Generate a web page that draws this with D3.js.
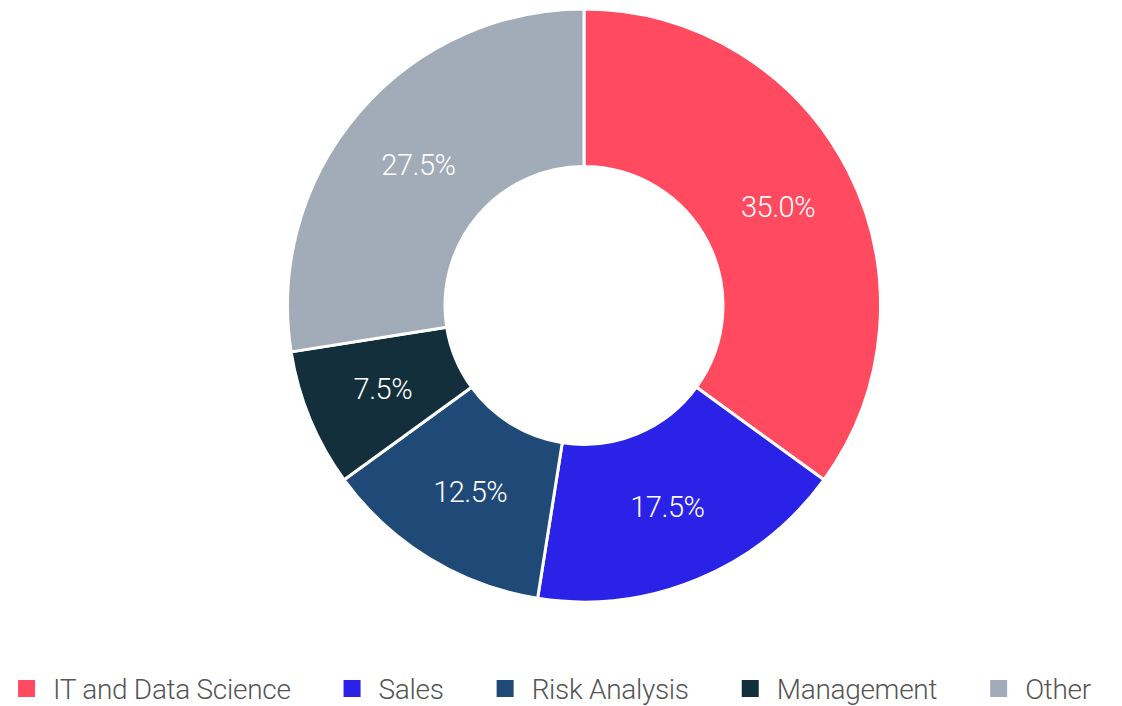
<!DOCTYPE html>
<html><head><meta charset="utf-8">
<script src="https://cdn.jsdelivr.net/npm/d3@7"></script>
<style>
html,body{margin:0;padding:0;background:#fff;}
svg{display:block;}
text{font-family:Roboto,"Noto Sans",sans-serif;font-weight:300;}
</style></head>
<body>
<svg id="chart" width="1122" height="706"></svg>
<script>
const categories = ["IT and Data Science", "Sales", "Risk Analysis", "Management", "Other"];
const values = [35.0, 17.5, 12.5, 7.5, 27.5];
const colors = ["#FF4A5F", "#2B22E8", "#1F4A78", "#132F3C", "#A2ACB8"];

const svg = d3.select("#chart");
const W = 1122, H = 706;
const cx = 584, cy = 305.5, R = 296.5, r = 139;

const data = categories.map((c, i) => ({cat: c, value: values[i], color: colors[i]}));
const pie = d3.pie().value(d => d.value).sort(null);
const arc = d3.arc().innerRadius(r).outerRadius(R);
const labelArc = d3.arc().innerRadius((r + R) / 2).outerRadius((r + R) / 2);

const g = svg.append("g").attr("transform", `translate(${cx},${cy})`);
const arcs = pie(data);
g.selectAll("path").data(arcs).join("path")
  .attr("d", arc)
  .attr("fill", d => d.data.color)
  .attr("stroke", "#fff")
  .attr("stroke-width", 3)
  .attr("stroke-linejoin", "round");

g.selectAll("text.lbl").data(arcs).join("text")
  .attr("class", "lbl")
  .attr("transform", d => `translate(${labelArc.centroid(d)})`)
  .attr("text-anchor", "middle")
  .attr("dy", "0.36em")
  .attr("fill", "#fff")
  .style("font-size", "29px")
  .style("letter-spacing", "-0.5px")
  .text(d => d.data.value.toFixed(1) + "%");

// legend
const legend = svg.append("g");
const items = legend.selectAll("g").data(data).join("g");
items.append("rect").attr("width", 17).attr("height", 17).attr("y", 680).attr("fill", d => d.color);
items.append("text").attr("x", 35).attr("y", 699).attr("fill", "#555")
  .style("font-size", "28px").style("letter-spacing", "-0.3px").text(d => d.cat);
const widths = [];
items.each(function() { widths.push(d3.select(this).select("text").node().getComputedTextLength()); });
const total = widths.reduce((a, b) => a + b + 35, 0) + 53 * (widths.length - 1);
let x = (W - total) / 2 - 6.5;
items.each(function(d, i) {
  d3.select(this).attr("transform", `translate(${x},0)`);
  x += 35 + widths[i] + 53;
});
</script>
</body></html>
